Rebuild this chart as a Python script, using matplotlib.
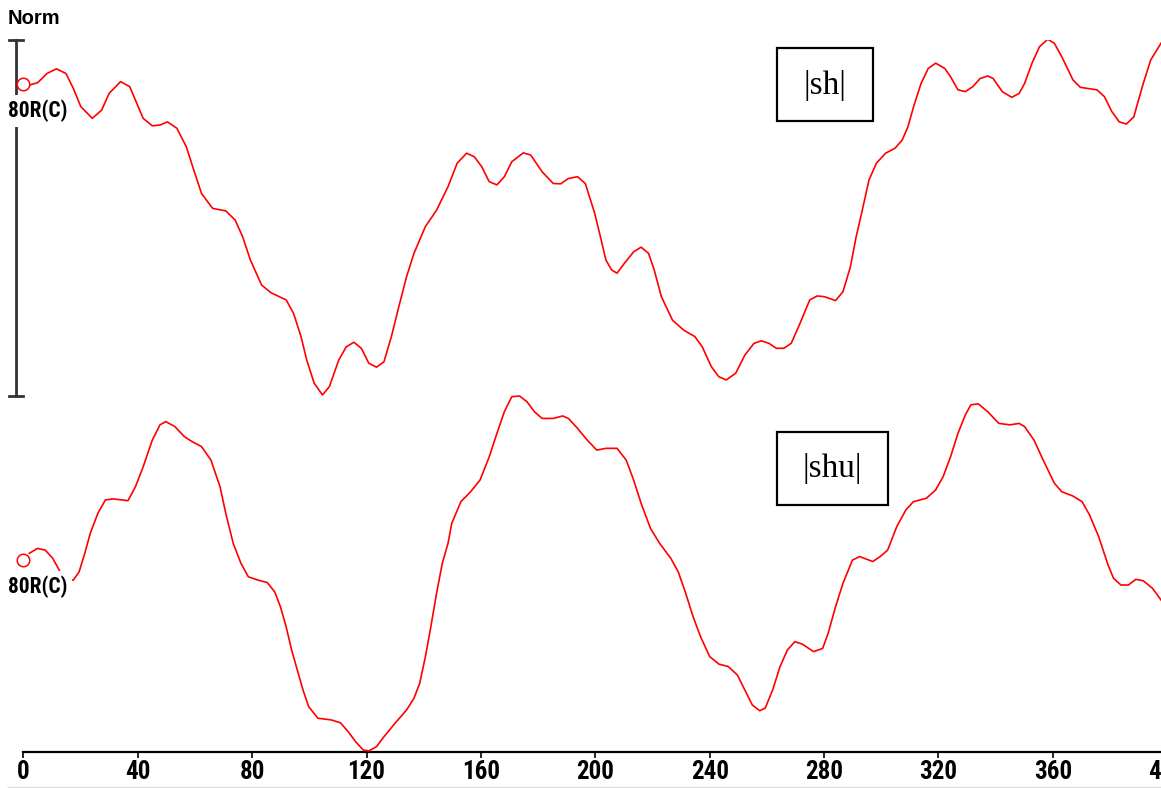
import matplotlib.pyplot as plt
from matplotlib.patches import Rectangle

# time axis (ms) and normalised amplitude (0-100) of each contour
sh_x = [2.4, 5.0, 8.3, 11.6, 14.9, 17.5, 20.1, 24.1, 27.4, 30.0, 34.0, 37.2, 39.2, 41.9, 45.1,
        47.8, 50.4, 53.7, 57.0, 59.6, 62.3, 66.2, 70.8, 74.1, 76.7, 79.4, 83.3, 86.6, 91.9, 94.5,
        97.1, 99.1, 101.7, 104.6, 107.0, 110.3, 112.9, 115.6, 118.2, 120.8, 123.5, 126.1, 128.7,
        131.3, 134.0, 136.6, 140.6, 144.5, 148.5, 151.7, 155.0, 157.7, 160.3, 162.9, 165.6, 168.2,
        170.8, 174.8, 177.4, 181.4, 185.3, 187.9, 190.6, 193.8, 196.5, 199.8, 201.8, 203.7, 205.7,
        207.6, 210.2, 213.4, 216.0, 218.6, 220.6, 223.1, 227.0, 230.9, 234.8, 237.4, 240.6, 243.2,
        245.8, 249.1, 252.3, 255.5, 258.1, 260.7, 263.3, 265.9, 268.5, 271.1, 275.0, 277.6, 280.1,
        284.0, 286.6, 289.2, 291.2, 293.1, 295.7, 298.3, 301.5, 304.8, 307.3, 309.3, 311.3, 313.9,
        316.4, 319.0, 322.2, 324.2, 326.8, 329.4, 332.0, 334.6, 337.2, 339.1, 342.3, 345.6, 348.2,
        350.1, 352.7, 355.3, 358.2, 360.5, 363.1, 367.0, 369.6, 372.1, 375.4, 378.0, 380.6, 383.2,
        385.7, 388.3, 389.6, 391.6, 394.2, 397.8]
sh_y = [87.4, 88.0, 90.6, 91.9, 90.6, 86.4, 81.3, 78.0, 80.3, 85.0, 88.3, 86.9, 83.1, 78.0, 75.9,
        76.1, 77.0, 75.2, 70.0, 63.5, 56.9, 52.7, 52.0, 49.4, 44.7, 38.2, 31.2, 29.0, 27.0, 23.2,
        16.7, 10.1, 3.6, 0.3, 2.6, 10.1, 13.8, 15.1, 13.4, 9.2, 8.1, 9.6, 16.7,
        25.1, 33.5, 40.1, 47.6, 52.2, 58.8, 65.4, 68.2, 67.2, 64.4, 60.2, 59.3, 61.6,
        65.8, 68.3, 67.7, 63.0, 59.7, 59.6, 61.1, 61.6, 59.7, 51.3, 44.7, 38.2, 35.4,
        34.5, 37.3, 40.5, 41.8, 40.1, 35.4, 27.9, 21.3, 18.5, 16.7, 13.8, 8.2, 5.4,
        4.5, 6.4, 11.5, 14.8, 15.5, 14.8, 13.4, 13.4, 14.8, 19.5, 27.0, 28.1, 27.9,
        26.8, 29.3, 36.3, 44.7, 51.3, 60.7, 65.4, 68.2, 69.6, 71.9, 75.6, 81.3, 87.8,
        92.0, 93.5, 92.0, 89.7, 86.0, 85.5, 86.9, 89.2, 89.9, 89.2, 85.5, 83.9, 85.0,
        87.8, 93.5, 98.1, 100.2, 99.1, 95.3, 88.8, 86.7, 86.4, 86.0, 84.1, 79.9, 77.0,
        76.4, 78.4, 82.2, 87.8, 94.4, 99.1]

shu_x = [2.1, 5.0, 7.7, 10.3, 12.9, 15.5, 17.5, 19.5, 21.5, 23.4, 26.1, 28.7, 31.3, 36.6, 39.2,
         41.9, 45.1, 47.8, 49.8, 53.0, 56.3, 59.0, 62.3, 65.6, 68.8, 70.8, 73.4, 76.1, 78.7, 82.0,
         85.3, 87.9, 89.9, 91.9, 93.8, 95.8, 97.8, 99.8, 103.0, 107.7, 110.9, 113.6, 116.2, 118.8,
         120.8, 123.5, 126.1, 130.0, 134.0, 136.6, 138.6, 140.6, 142.5, 144.5, 146.5, 148.5, 149.8,
         153.0, 156.4, 159.7, 162.9, 165.6, 168.2, 170.8, 173.5, 176.1, 178.7, 181.4, 185.3, 188.6,
         190.6, 193.8, 197.2, 200.5, 203.7, 207.6, 210.8, 213.4, 216.0, 219.3, 222.5, 226.4, 229.0,
         231.6, 234.2, 236.8, 240.0, 243.2, 246.5, 249.7, 252.3, 254.9, 257.5, 259.4, 262.0, 264.6,
         267.2, 269.8, 272.4, 276.3, 279.5, 281.4, 284.0, 286.6, 289.9, 292.4, 297.0, 299.6, 302.2,
         305.4, 308.6, 311.2, 315.8, 319.0, 321.6, 324.2, 326.8, 329.4, 331.3, 333.9, 337.2, 341.1,
         345.0, 348.2, 350.1, 353.4, 356.6, 360.5, 363.1, 367.0, 370.2, 372.8, 376.0, 379.3, 381.2,
         383.8, 386.4, 389.0, 391.6, 394.8, 397.8]
shu_y = [55.8, 57.2, 56.7, 54.4, 50.6, 48.1, 48.3, 50.6, 55.8, 61.4, 67.1, 70.8, 71.1, 70.6, 74.5,
         80.1, 87.6, 91.9, 92.8, 91.4, 88.6, 87.2, 85.8, 82.0, 74.5, 67.0, 58.6, 53.0, 49.2, 48.3,
         47.6, 45.0, 40.8, 35.2, 28.7, 23.0, 17.4, 12.7, 9.5, 9.0, 8.2, 5.7, 2.9, 0.6,
         0.3, 1.5, 4.3, 8.1, 11.8, 15.1, 19.3, 26.8, 35.2, 44.6, 53.0, 58.6, 64.2,
         70.3, 73.1, 76.4, 82.9, 89.5, 95.6, 99.8, 100.0, 98.4, 95.6, 93.7, 93.7, 94.4,
         93.7, 90.9, 87.6, 84.8, 85.3, 85.3, 82.0, 76.4, 69.9, 62.8, 58.6, 54.4, 50.6,
         44.6, 38.0, 32.4, 26.8, 24.7, 24.0, 21.6, 17.4, 13.2, 11.6, 12.3, 17.4, 24.0,
         28.7, 31.0, 30.3, 28.2, 29.1, 33.3, 40.8, 47.4, 53.9, 54.9, 53.5, 54.9, 56.7,
         63.3, 68.0, 70.3, 71.3, 73.6, 77.3, 82.9, 89.5, 94.7, 97.5, 97.8, 95.6, 92.3,
         91.9, 92.3, 91.4, 87.6, 82.0, 75.5, 73.1, 71.9, 70.3, 66.6, 60.5, 52.5, 48.8,
         46.9, 46.9, 48.5, 48.1, 46.0, 42.7]

# cursor circle at the start of each contour
start_y = [87.6, 53.9]
names = ['|sh|', '|shu|']
ticks = list(range(0, 401, 40))

TOP = 100  # vertical offset of the upper contour
narrow = ['Liberation Sans Narrow', 'DejaVu Sans Condensed', 'Roboto Condensed', 'Roboto']

fig = plt.figure(figsize=(11.61, 7.88), dpi=100)
ax = fig.add_axes([23.3 / 1161, 36 / 788, 1144 / 1161, 712 / 788])

ax.plot(sh_x, [v + TOP for v in sh_y], color='red', lw=1.2, zorder=3, solid_joinstyle='round')
ax.plot(shu_x, shu_y, color='red', lw=1.2, zorder=3, solid_joinstyle='round')
ax.plot([0, 0], [start_y[0] + TOP, start_y[1]], 'o', mfc='none', mec='red', ms=9, mew=1.1,
        clip_on=False, zorder=4)

# scale bracket on the left
ax.plot([-2.55, -2.55], [TOP, 2 * TOP], color='#333333', lw=2, clip_on=False, zorder=1)
ax.plot([-5, 0], [2 * TOP, 2 * TOP], color='#333333', lw=2, clip_on=False, zorder=1)
ax.plot([-5, 0], [TOP, TOP], color='#333333', lw=2, clip_on=False, zorder=1)

for y in [start_y[0] + TOP - 7.6, start_y[1] - 7.6]:
    ax.text(-5.3, y, '80R(C)', ha='left', va='center', fontsize=15.5, fontweight='bold',
            family=narrow, fontstretch='condensed', clip_on=False, zorder=5,
            bbox=dict(boxstyle='square,pad=0.22', fc='white', ec='none'))

# boxed labels
ax.add_patch(Rectangle((263.4, 177.2), 33.8, 20.5, fill=False, ec='black', lw=1.6, zorder=5))
ax.text(280.3, 187.3, names[0], ha='center', va='center', fontsize=24, family='Liberation Serif')
ax.add_patch(Rectangle((263.4, 69.4), 38.8, 20.4, fill=False, ec='black', lw=1.6, zorder=5))
ax.text(282.8, 79.6, names[1], ha='center', va='center', fontsize=24, family='Liberation Serif')

ax.set_xlim(0, 400)
ax.set_ylim(0, 2 * TOP)
ax.set_xticks(ticks)
ax.set_xticklabels([str(t) for t in ticks], fontsize=18, fontweight='bold', family=narrow,
                   fontstretch='condensed')
ax.set_yticks([])
ax.tick_params(axis='x', direction='out', length=4, width=1.2, pad=2)
for s in ['left', 'top', 'right']:
    ax.spines[s].set_visible(False)
ax.spines['bottom'].set_linewidth(1.6)
ax.patch.set_visible(False)

fig.text(8 / 1161, 1 - 18 / 788, 'Norm', ha='left', va='center', fontsize=14.5, fontweight='bold',
         family='Liberation Sans')
fig.add_artist(plt.Line2D([8 / 1161, 1], [1.5 / 788, 1.5 / 788], color='#dddddd', lw=1))

fig.savefig('out.png', dpi=100)
